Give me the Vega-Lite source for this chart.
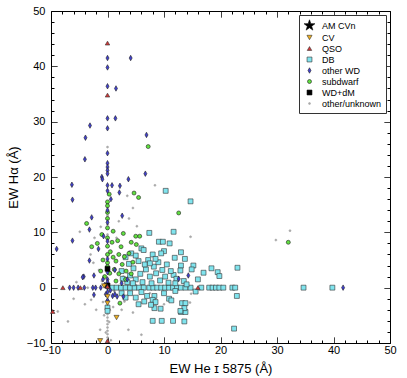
{
"$schema": "https://vega.github.io/schema/vega-lite/v6.json",
"width": 407, "height": 378,
"autosize": {"type": "fit", "contains": "padding"},
"padding": {"left": 7, "top": 5, "right": 10, "bottom": 3},
"config": {
  "view": {"stroke": "black", "strokeWidth": 1},
  "axis": {"domain": false, "grid": false, "labelFont": "Liberation Sans", "labelFontSize": 11, "labelColor": "black", "titleFont": "Liberation Sans", "titleFontSize": 13, "titleFontWeight": "normal", "titleColor": "black", "tickColor": "black", "labelOverlap": false, "labelFlush": false},
  "legend": {"labelFont": "Liberation Sans", "labelFontSize": 9, "labelColor": "black"}
},
"data": {"values": [
{"x":0,"y":25.4,"c":"other/unknown"},{"x":0,"y":15.2,"c":"other/unknown"},{"x":0,"y":13,"c":"other/unknown"},{"x":0,"y":11.4,"c":"other/unknown"},{"x":0,"y":9.6,"c":"other/unknown"},{"x":0,"y":-0.8,"c":"other/unknown"},{"x":0,"y":-1.6,"c":"other/unknown"},{"x":0,"y":-2.2,"c":"other/unknown"},{"x":0,"y":-3.2,"c":"other/unknown"},{"x":0,"y":-4.8,"c":"other/unknown"},{"x":0,"y":-5.4,"c":"other/unknown"},{"x":0,"y":-6,"c":"other/unknown"},{"x":0,"y":-6.6,"c":"other/unknown"},{"x":0,"y":-7.2,"c":"other/unknown"},{"x":0,"y":-7.8,"c":"other/unknown"},{"x":0,"y":-8.4,"c":"other/unknown"},{"x":0,"y":-9,"c":"other/unknown"},{"x":0.3,"y":-6.2,"c":"other/unknown"},{"x":-0.3,"y":-8.1,"c":"other/unknown"},{"x":0.4,"y":-4.1,"c":"other/unknown"},{"x":-4.9,"y":10.1,"c":"other/unknown"},{"x":3.5,"y":16.6,"c":"other/unknown"},{"x":4.5,"y":14.4,"c":"other/unknown"},{"x":3.8,"y":12.5,"c":"other/unknown"},{"x":5.2,"y":11.1,"c":"other/unknown"},{"x":1.6,"y":9,"c":"other/unknown"},{"x":14.7,"y":9.2,"c":"other/unknown"},{"x":8.4,"y":18.5,"c":"other/unknown"},{"x":-7,"y":-6.1,"c":"other/unknown"},{"x":-8.8,"y":-4.3,"c":"other/unknown"},{"x":-1.3,"y":-7.6,"c":"other/unknown"},{"x":-2.9,"y":-2.2,"c":"other/unknown"},{"x":3.7,"y":-7.6,"c":"other/unknown"},{"x":6,"y":-8.5,"c":"other/unknown"},{"x":29.8,"y":8.6,"c":"other/unknown"},{"x":32.3,"y":10.3,"c":"other/unknown"},{"x":14.8,"y":-1.1,"c":"other/unknown"},{"x":14.6,"y":-2.7,"c":"other/unknown"},{"x":17.8,"y":0,"c":"other/unknown"},{"x":-3.5,"y":0,"c":"other/unknown"},{"x":-2.5,"y":4.5,"c":"other/unknown"},{"x":-1.5,"y":3.2,"c":"other/unknown"},{"x":-3,"y":6,"c":"other/unknown"},{"x":-5.5,"y":1,"c":"other/unknown"},{"x":-6,"y":-2,"c":"other/unknown"},{"x":-2,"y":-4,"c":"other/unknown"},{"x":-4,"y":-3,"c":"other/unknown"},{"x":2.5,"y":-4,"c":"other/unknown"},{"x":3,"y":-2.5,"c":"other/unknown"},{"x":4.5,"y":-4.5,"c":"other/unknown"},{"x":1,"y":-3.5,"c":"other/unknown"},{"x":8,"y":0,"c":"other/unknown"},{"x":5,"y":0.5,"c":"other/unknown"},{"x":-1.2,"y":11,"c":"other/unknown"},{"x":2,"y":12,"c":"other/unknown"},{"x":2.8,"y":2,"c":"other/unknown"},{"x":1.5,"y":5,"c":"other/unknown"},{"x":6.5,"y":3,"c":"other/unknown"},{"x":7.5,"y":-1,"c":"other/unknown"},{"x":10,"y":-3,"c":"other/unknown"},{"x":0.6,"y":-9.5,"c":"other/unknown"},{"x":-0.6,"y":-5,"c":"other/unknown"},{"x":-2.3,"y":9,"c":"other/unknown"},{"x":5,"y":5.5,"c":"other/unknown"},{"x":-1,"y":1.2,"c":"other/unknown"},{"x":1.2,"y":-0.6,"c":"other/unknown"},{"x":-0.8,"y":-2.6,"c":"other/unknown"},
{"x":0.8,"y":0,"c":"DB"},{"x":1.6,"y":0,"c":"DB"},{"x":2.4,"y":0,"c":"DB"},{"x":3.2,"y":0,"c":"DB"},{"x":4,"y":0,"c":"DB"},{"x":4.8,"y":0,"c":"DB"},{"x":5.6,"y":0,"c":"DB"},{"x":6.4,"y":0,"c":"DB"},{"x":7.4,"y":0,"c":"DB"},{"x":8.1,"y":0,"c":"DB"},{"x":8.8,"y":0,"c":"DB"},{"x":9.5,"y":0,"c":"DB"},{"x":10.2,"y":0,"c":"DB"},{"x":10.9,"y":0,"c":"DB"},{"x":11.6,"y":0,"c":"DB"},{"x":12.3,"y":0,"c":"DB"},{"x":13,"y":0,"c":"DB"},{"x":13.8,"y":0,"c":"DB"},{"x":14.7,"y":0,"c":"DB"},{"x":16.6,"y":0,"c":"DB"},{"x":18,"y":0,"c":"DB"},{"x":18.6,"y":0,"c":"DB"},{"x":19.2,"y":0,"c":"DB"},{"x":19.8,"y":0,"c":"DB"},{"x":20.5,"y":0,"c":"DB"},{"x":22.1,"y":0,"c":"DB"},{"x":22.6,"y":0,"c":"DB"},{"x":34.7,"y":0,"c":"DB"},{"x":39.8,"y":0,"c":"DB"},
{"x":10.3,"y":17.5,"c":"DB"},{"x":14.7,"y":15.6,"c":"DB"},{"x":7.4,"y":9.9,"c":"DB"},{"x":11.7,"y":10.1,"c":"DB"},{"x":9.1,"y":8.3,"c":"DB"},{"x":9.8,"y":8.3,"c":"DB"},{"x":11,"y":8,"c":"DB"},{"x":6,"y":7.1,"c":"DB"},{"x":6.4,"y":6.8,"c":"DB"},{"x":10,"y":6.6,"c":"DB"},{"x":13,"y":6.4,"c":"DB"},{"x":11.9,"y":5.4,"c":"DB"},{"x":13.7,"y":5.2,"c":"DB"},{"x":15.2,"y":4,"c":"DB"},{"x":14.9,"y":3.3,"c":"DB"},{"x":13,"y":4,"c":"DB"},{"x":12.9,"y":3.1,"c":"DB"},{"x":17,"y":2.7,"c":"DB"},{"x":18.4,"y":3.5,"c":"DB"},{"x":19.5,"y":2.8,"c":"DB"},{"x":19.8,"y":2.1,"c":"DB"},{"x":23,"y":3.6,"c":"DB"},{"x":11.7,"y":2.3,"c":"DB"},{"x":12.2,"y":1.6,"c":"DB"},
{"x":3.5,"y":1,"c":"DB"},{"x":4,"y":2.2,"c":"DB"},{"x":4.6,"y":3.5,"c":"DB"},{"x":5,"y":1.5,"c":"DB"},{"x":5.5,"y":4.8,"c":"DB"},{"x":5.8,"y":2.5,"c":"DB"},{"x":6.2,"y":1,"c":"DB"},{"x":6.8,"y":3.3,"c":"DB"},{"x":7.2,"y":5,"c":"DB"},{"x":7.5,"y":2,"c":"DB"},{"x":7.8,"y":0.8,"c":"DB"},{"x":8.2,"y":3.8,"c":"DB"},{"x":8.6,"y":2.6,"c":"DB"},{"x":9,"y":4.6,"c":"DB"},{"x":9.3,"y":1.3,"c":"DB"},{"x":9.7,"y":3.2,"c":"DB"},{"x":10.2,"y":2,"c":"DB"},{"x":10.5,"y":4.2,"c":"DB"},{"x":10.8,"y":0.9,"c":"DB"},{"x":11.2,"y":3,"c":"DB"},{"x":3.2,"y":5.5,"c":"DB"},{"x":4.2,"y":6.2,"c":"DB"},{"x":5,"y":5.8,"c":"DB"},{"x":8,"y":6,"c":"DB"},{"x":8.5,"y":5.2,"c":"DB"},{"x":12,"y":0.8,"c":"DB"},{"x":13.5,"y":1.2,"c":"DB"},{"x":14,"y":0.6,"c":"DB"},{"x":16,"y":1.5,"c":"DB"},{"x":4.5,"y":0.8,"c":"DB"},{"x":2.5,"y":3,"c":"DB"},{"x":6.6,"y":4.2,"c":"DB"},{"x":2.7,"y":1.6,"c":"DB"},{"x":3.8,"y":4.3,"c":"DB"},{"x":7.5,"y":4.4,"c":"DB"},{"x":9.5,"y":6.2,"c":"DB"},
{"x":15.6,"y":-0.7,"c":"DB"},{"x":22.9,"y":-1.5,"c":"DB"},{"x":13.2,"y":-2.8,"c":"DB"},{"x":13.8,"y":-2.8,"c":"DB"},{"x":13,"y":-4.4,"c":"DB"},{"x":13.8,"y":-4.4,"c":"DB"},{"x":13.6,"y":-3.7,"c":"DB"},{"x":13.6,"y":-6.1,"c":"DB"},{"x":22.4,"y":-7.4,"c":"DB"},{"x":8.3,"y":-1.5,"c":"DB"},{"x":8,"y":-2.2,"c":"DB"},{"x":8.5,"y":-2.6,"c":"DB"},{"x":8.3,"y":-3.7,"c":"DB"},{"x":9.4,"y":-3.8,"c":"DB"},{"x":10.9,"y":-2,"c":"DB"},{"x":11.3,"y":-2.3,"c":"DB"},{"x":12.9,"y":-4.2,"c":"DB"},{"x":8,"y":-6,"c":"DB"},{"x":9.6,"y":-6,"c":"DB"},{"x":11.6,"y":-6,"c":"DB"},{"x":7.7,"y":-3.1,"c":"DB"},{"x":4,"y":-1,"c":"DB"},{"x":5,"y":-1.8,"c":"DB"},{"x":6,"y":-0.8,"c":"DB"},{"x":6.5,"y":-2.5,"c":"DB"},{"x":3.2,"y":-1.8,"c":"DB"},{"x":2.5,"y":-1,"c":"DB"},{"x":5.5,"y":-3,"c":"DB"},{"x":10,"y":-1,"c":"DB"},{"x":12,"y":-0.6,"c":"DB"},{"x":7,"y":-1.5,"c":"DB"},{"x":0,"y":-3.6,"c":"DB"},{"x":0,"y":-4.2,"c":"DB"},
{"x":7.2,"y":25.5,"c":"subdwarf"},{"x":4.7,"y":17.1,"c":"subdwarf"},{"x":5.5,"y":16.3,"c":"subdwarf"},{"x":0.3,"y":16.9,"c":"subdwarf"},{"x":12.6,"y":13.5,"c":"subdwarf"},{"x":-3.7,"y":11.6,"c":"subdwarf"},{"x":1,"y":10.2,"c":"subdwarf"},{"x":5,"y":9.3,"c":"subdwarf"},{"x":5.7,"y":9.3,"c":"subdwarf"},{"x":-1.8,"y":8,"c":"subdwarf"},{"x":-2.8,"y":7.4,"c":"subdwarf"},{"x":4.2,"y":8.2,"c":"subdwarf"},{"x":5.1,"y":7.8,"c":"subdwarf"},{"x":2.4,"y":7.4,"c":"subdwarf"},{"x":32,"y":8.2,"c":"subdwarf"},{"x":0,"y":15.5,"c":"subdwarf"},{"x":0,"y":14.8,"c":"subdwarf"},{"x":0,"y":13.6,"c":"subdwarf"},{"x":0,"y":12.5,"c":"subdwarf"},{"x":0,"y":10.8,"c":"subdwarf"},{"x":0,"y":9,"c":"subdwarf"},{"x":0,"y":7.5,"c":"subdwarf"},{"x":0,"y":6,"c":"subdwarf"},{"x":0,"y":4.5,"c":"subdwarf"},{"x":0,"y":3.8,"c":"subdwarf"},{"x":0.5,"y":6.5,"c":"subdwarf"},{"x":1,"y":5.5,"c":"subdwarf"},{"x":1.5,"y":4.8,"c":"subdwarf"},{"x":2,"y":6,"c":"subdwarf"},{"x":2.6,"y":4.2,"c":"subdwarf"},{"x":3,"y":5.6,"c":"subdwarf"},{"x":3.3,"y":3,"c":"subdwarf"},{"x":1.2,"y":3.3,"c":"subdwarf"},{"x":2,"y":2.5,"c":"subdwarf"},{"x":-0.8,"y":5,"c":"subdwarf"},{"x":-1.2,"y":3,"c":"subdwarf"},{"x":-0.5,"y":2,"c":"subdwarf"},{"x":3.8,"y":6.2,"c":"subdwarf"},{"x":4.5,"y":4.6,"c":"subdwarf"},{"x":1.8,"y":8.5,"c":"subdwarf"},{"x":2.8,"y":9.8,"c":"subdwarf"},{"x":0.8,"y":8.2,"c":"subdwarf"},{"x":-1,"y":9.6,"c":"subdwarf"},{"x":2.2,"y":-2.8,"c":"subdwarf"},{"x":3.2,"y":1.5,"c":"subdwarf"},{"x":1.5,"y":1.2,"c":"subdwarf"},{"x":0.4,"y":2.6,"c":"subdwarf"},{"x":4.2,"y":2.5,"c":"subdwarf"},
{"x":0,"y":41.5,"c":"other WD"},{"x":4.1,"y":41.5,"c":"other WD"},{"x":0,"y":39.8,"c":"other WD"},{"x":0,"y":36.4,"c":"other WD"},{"x":1.5,"y":36,"c":"other WD"},{"x":0,"y":30.6,"c":"other WD"},{"x":1.4,"y":30.6,"c":"other WD"},{"x":-3.1,"y":29.3,"c":"other WD"},{"x":0,"y":28.8,"c":"other WD"},{"x":6.9,"y":27.6,"c":"other WD"},{"x":-3.9,"y":27.1,"c":"other WD"},{"x":0,"y":24.3,"c":"other WD"},{"x":-4,"y":23.2,"c":"other WD"},{"x":0,"y":22.5,"c":"other WD"},{"x":0,"y":21.8,"c":"other WD"},{"x":0,"y":21.2,"c":"other WD"},{"x":0,"y":20.6,"c":"other WD"},{"x":-1,"y":20,"c":"other WD"},{"x":-0.9,"y":19.6,"c":"other WD"},{"x":6.7,"y":20.6,"c":"other WD"},{"x":3.7,"y":19.6,"c":"other WD"},{"x":-6.3,"y":18.6,"c":"other WD"},{"x":0,"y":18.5,"c":"other WD"},{"x":0.8,"y":18.5,"c":"other WD"},{"x":2.2,"y":18.4,"c":"other WD"},{"x":2.1,"y":17.2,"c":"other WD"},{"x":-6.2,"y":15.9,"c":"other WD"},{"x":0,"y":17.5,"c":"other WD"},{"x":0.6,"y":16,"c":"other WD"},{"x":0,"y":14,"c":"other WD"},{"x":2.6,"y":13,"c":"other WD"},{"x":-2.8,"y":12.7,"c":"other WD"},{"x":-3.2,"y":10.5,"c":"other WD"},{"x":0,"y":11.8,"c":"other WD"},{"x":-0.7,"y":9.3,"c":"other WD"},{"x":-6.2,"y":8.5,"c":"other WD"},{"x":-9,"y":7,"c":"other WD"},{"x":-1.6,"y":7,"c":"other WD"},{"x":0,"y":8.4,"c":"other WD"},{"x":0,"y":5.2,"c":"other WD"},{"x":0,"y":2.8,"c":"other WD"},{"x":0,"y":1.5,"c":"other WD"},{"x":0,"y":1,"c":"other WD"},{"x":-3.2,"y":4.9,"c":"other WD"},{"x":-4.2,"y":2,"c":"other WD"},{"x":-4.4,"y":1.9,"c":"other WD"},{"x":-2.4,"y":2.2,"c":"other WD"},{"x":14.3,"y":2.2,"c":"other WD"},{"x":12.6,"y":1.6,"c":"other WD"},{"x":1.7,"y":-1.6,"c":"other WD"},{"x":0.9,"y":-1.5,"c":"other WD"},{"x":1.3,"y":-1.2,"c":"other WD"},{"x":2.8,"y":-1.6,"c":"other WD"},{"x":-2.4,"y":-1.3,"c":"other WD"},{"x":41.7,"y":0,"c":"other WD"},{"x":-6.7,"y":0,"c":"other WD"},{"x":-6,"y":0,"c":"other WD"},{"x":-5.2,"y":0,"c":"other WD"},{"x":-4.1,"y":0,"c":"other WD"},{"x":-2.6,"y":0,"c":"other WD"},{"x":-2.1,"y":0,"c":"other WD"},{"x":-1.2,"y":0,"c":"other WD"},{"x":-0.5,"y":0.5,"c":"other WD"},{"x":0,"y":0,"c":"other WD"},{"x":0.5,"y":-0.5,"c":"other WD"},{"x":0,"y":-0.8,"c":"other WD"},{"x":-0.3,"y":-1.2,"c":"other WD"},{"x":1.3,"y":3.2,"c":"other WD"},{"x":3.5,"y":1.5,"c":"other WD"},{"x":-0.8,"y":1.5,"c":"other WD"},{"x":2.5,"y":0.8,"c":"other WD"},{"x":0,"y":-2.3,"c":"other WD"},
{"x":0,"y":3.4,"c":"WD+dM"},{"x":0,"y":0.4,"c":"WD+dM"},
{"x":0,"y":44.2,"c":"QSO"},{"x":0,"y":34.8,"c":"QSO"},{"x":-7.9,"y":0,"c":"QSO"},{"x":-4.8,"y":0,"c":"QSO"},{"x":-9.7,"y":-4.3,"c":"QSO"},{"x":16,"y":0,"c":"QSO"},{"x":0,"y":-9.6,"c":"QSO"},{"x":0,"y":0.2,"c":"QSO"},
{"x":-0.6,"y":0.3,"c":"CV"},{"x":0,"y":-1.6,"c":"CV"},{"x":0,"y":-2.8,"c":"CV"},{"x":1.6,"y":-5.4,"c":"CV"},{"x":-1.3,"y":-9.6,"c":"CV"}
]},
"resolve": {"axis": {"x": "independent", "y": "independent"}},
"layer": [
 {"mark": {"type": "point", "filled": true, "opacity": 1, "strokeWidth": 0.6},
  "encoding": {
   "x": {"field": "x", "type": "quantitative", "scale": {"domain": [-10, 50], "nice": false, "zero": false},
     "axis": {"orient": "bottom", "offset": -6, "tickSize": 6,
       "values": [-10,-8,-6,-4,-2,0,2,4,6,8,10,12,14,16,18,20,22,24,26,28,30,32,34,36,38,40,42,44,46,48,50],
       "labelExpr": "datum.value % 10 === 0 ? datum.label : ''",
       "tickDash": {"condition": {"test": "datum.value % 10 !== 0", "value": [0, 3, 3]}, "value": [1, 0]},
       "labelPadding": 1, "title": "EW He ɪ 5875 (Å)", "titlePadding": 7}},
   "y": {"field": "y", "type": "quantitative", "scale": {"domain": [-10, 50], "nice": false, "zero": false},
     "axis": {"orient": "left", "offset": -6, "tickSize": 6,
       "values": [-10,-8,-6,-4,-2,0,2,4,6,8,10,12,14,16,18,20,22,24,26,28,30,32,34,36,38,40,42,44,46,48,50],
       "labelExpr": "datum.value % 10 === 0 ? datum.label : ''",
       "tickDash": {"condition": {"test": "datum.value % 10 !== 0", "value": [0, 3, 3]}, "value": [1, 0]},
       "labelPadding": 6, "title": "EW Hα (Å)", "titlePadding": 6}},
   "shape": {"field": "c", "type": "nominal",
     "scale": {"domain": ["AM CVn","CV","QSO","DB","other WD","subdwarf","WD+dM","other/unknown"],
       "range": ["M0,-1L0.235,-0.324L0.951,-0.309L0.38,0.124L0.588,0.809L0,0.4L-0.588,0.809L-0.38,0.124L-0.951,-0.309L-0.235,-0.324Z","triangle-down","triangle-up","square","M0,-1L0.55,0L0,1L-0.55,0Z","circle","square","circle"]},
     "legend": {"title": null, "orient": "top-right", "offset": 4, "fillColor": "white", "strokeColor": "#333", "padding": 4, "rowPadding": 1, "labelOffset": 6, "symbolStrokeWidth": 0.6}},
   "color": {"field": "c", "type": "nominal",
     "scale": {"domain": ["AM CVn","CV","QSO","DB","other WD","subdwarf","WD+dM","other/unknown"],
       "range": ["#000000","#f0b020","#d03838","#80e4ee","#4040d0","#60e040","#000000","#a8a8a8"]}},
   "stroke": {"field": "c", "type": "nominal",
     "scale": {"domain": ["AM CVn","CV","QSO","DB","other WD","subdwarf","WD+dM","other/unknown"],
       "range": ["#000000","#333333","#333333","#333333","#222222","#222222","#000000","#a8a8a8"]}},
   "size": {"field": "c", "type": "nominal",
     "scale": {"type": "ordinal", "domain": ["AM CVn","CV","QSO","DB","other WD","subdwarf","WD+dM","other/unknown"],
       "range": [130, 26, 20, 24, 30, 16, 24, 4]}}
  }},
 {"mark": {"type": "point", "opacity": 0},
  "encoding": {
   "x": {"field": "x", "type": "quantitative", "scale": {"domain": [-10, 50], "nice": false, "zero": false},
     "axis": {"orient": "top", "offset": -6, "tickSize": 6, "labels": false, "title": null,
       "values": [-10,-8,-6,-4,-2,0,2,4,6,8,10,12,14,16,18,20,22,24,26,28,30,32,34,36,38,40,42,44,46,48,50],
       "tickDash": {"condition": {"test": "datum.value % 10 !== 0", "value": [0, 3, 3]}, "value": [1, 0]}}},
   "y": {"field": "y", "type": "quantitative", "scale": {"domain": [-10, 50], "nice": false, "zero": false},
     "axis": {"orient": "right", "offset": -6, "tickSize": 6, "labels": false, "title": null,
       "values": [-10,-8,-6,-4,-2,0,2,4,6,8,10,12,14,16,18,20,22,24,26,28,30,32,34,36,38,40,42,44,46,48,50],
       "tickDash": {"condition": {"test": "datum.value % 10 !== 0", "value": [0, 3, 3]}, "value": [1, 0]}}}
  }}
]
}
